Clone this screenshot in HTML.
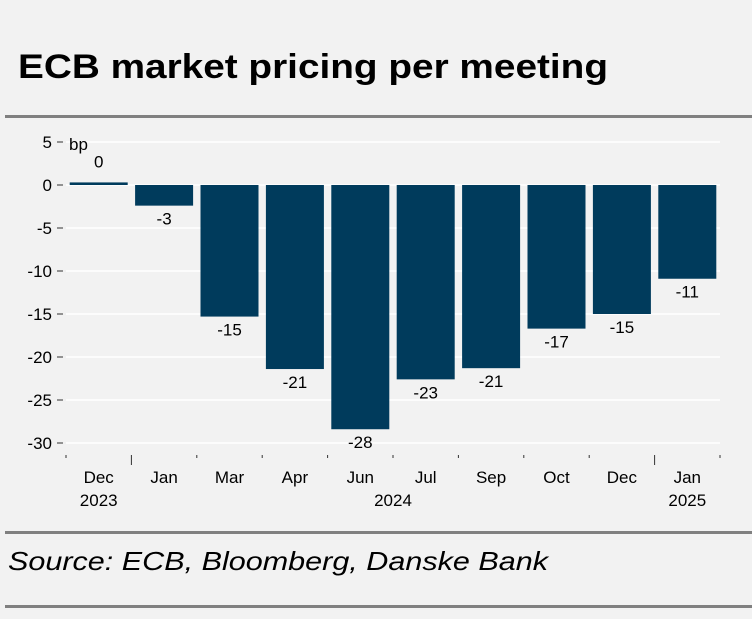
<!DOCTYPE html>
<html><head><meta charset="utf-8"><style>
body{margin:0;width:752px;height:614px;background:#f2f2f2;overflow:hidden;font-family:"Liberation Sans",sans-serif}
</style></head><body>
<svg width="752" height="614" xmlns="http://www.w3.org/2000/svg">
<rect x="0" y="0" width="752" height="614" fill="#f2f2f2"/>
<text x="18" y="78" font-size="34" font-weight="bold" textLength="590" lengthAdjust="spacingAndGlyphs" fill="#000">ECB market pricing per meeting</text>
<rect x="5" y="115" width="747" height="3" fill="#808080"/>
<rect x="5" y="531" width="747" height="3" fill="#808080"/>
<rect x="5" y="605" width="747" height="3" fill="#808080"/>
<text x="8" y="570" font-size="26" font-style="italic" textLength="540" lengthAdjust="spacingAndGlyphs" fill="#000">Source: ECB, Bloomberg, Danske Bank</text>
<g id="plot"></g>
</svg>
<script>
const categories=["Dec","Jan","Mar","Apr","Jun","Jul","Sep","Oct","Dec","Jan"];
const values=[0.3,-2.4,-15.3,-21.4,-28.4,-22.6,-21.3,-16.7,-15.0,-10.9];
const valueLabels=["0","-3","-15","-21","-28","-23","-21","-17","-15","-11"];
const yTicks=[5,0,-5,-10,-15,-20,-25,-30];
const years=[{t:"2023",i:0},{t:"2024",i:4.5},{t:"2025",i:9}];
const NS="http://www.w3.org/2000/svg";
const g=document.getElementById('plot');
const x0=66,x1=720,pitch=(x1-x0)/categories.length;
const y=v=>185-v*8.6;
const xc=i=>x0+pitch*(i+0.5);
function mk(tag,at,txt){const e=document.createElementNS(NS,tag);for(const k in at)e.setAttribute(k,at[k]);if(txt!==undefined)e.textContent=txt;g.appendChild(e);return e;}
yTicks.forEach(t=>{
 const l=mk('line',{x1:x0,x2:x1,y1:y(t),y2:y(t),stroke:'#fff','stroke-width':1.5});
 
 
 const tk=mk('line',{x1:57,x2:63,y1:y(t),y2:y(t),stroke:'#333','stroke-width':1});
 
 
 const tx=mk('text',{x:52,y:y(t)+6,'font-size':17,'text-anchor':'end',fill:'#000'},String(t));
 
 
});
const bp=mk('text',{x:69,y:150,'font-size':17,fill:'#000'},'bp');


values.forEach((v,i)=>{
 const bw=58,top=Math.min(y(v),y(0)),h=Math.max(Math.abs(y(v)-y(0)),2);
 const r=mk('rect',{x:xc(i)-bw/2,y:top,width:bw,height:h,fill:'#003b5c'});
 
 
 const ly=v>=0?y(v)-15:y(v)+19;
 const t=mk('text',{x:xc(i),y:ly,'font-size':17,'text-anchor':'middle',fill:'#000'},valueLabels[i]);
 
 
 const c=mk('text',{x:xc(i),y:483,'font-size':17,'text-anchor':'middle',fill:'#000'},categories[i]);
 
 
});
for(let i=0;i<=categories.length;i++){
 const major=(i===1||i===9);
 const tk=mk('line',{x1:x0+pitch*i,x2:x0+pitch*i,y1:455,y2:major?465:458,stroke:'#333','stroke-width':1});
 
 
}
years.forEach(o=>{
 const t=mk('text',{x:xc(o.i),y:506,'font-size':17,'text-anchor':'middle',fill:'#000'},o.t);
 
 
});
</script>
</body></html>
